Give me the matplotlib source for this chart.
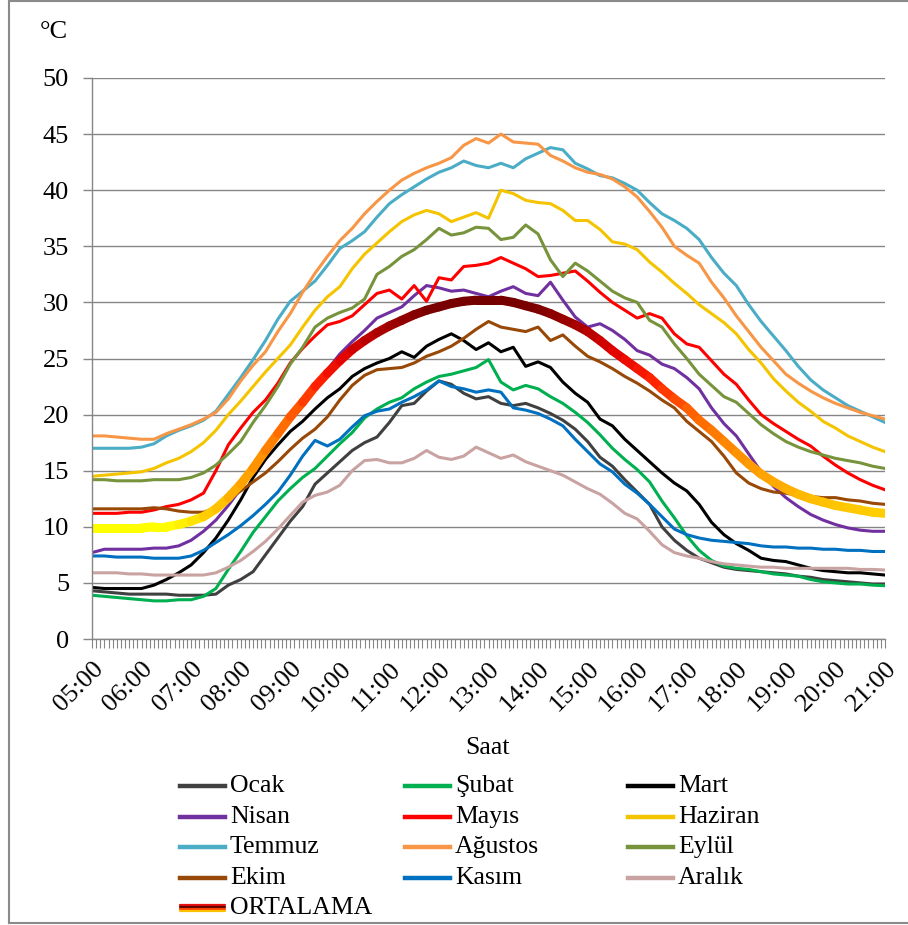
import numpy as np
import matplotlib
matplotlib.use("Agg")
import matplotlib.pyplot as plt
from matplotlib.collections import LineCollection
from matplotlib.colors import LinearSegmentedColormap
from matplotlib.lines import Line2D
from matplotlib.ticker import MultipleLocator, FixedLocator

plt.rcParams['font.family'] = ['Liberation Serif', 'DejaVu Serif']

# ---- veriler: 05:00 - 21:00 arasi, 15 dakikada bir ortalama sicaklik (°C) ----
saat = np.arange(5, 21.001, 0.25)

ocak = [4.3, 4.2, 4.1, 4.0, 4.0, 4.0, 4.0, 3.9, 3.9, 3.9, 4.0, 4.8, 5.3, 6.0, 7.5, 9.0,
        10.5, 11.8, 13.8, 14.8, 15.8, 16.8, 17.5, 18.0, 19.3, 20.8, 21.0, 22.1, 23.0, 22.7, 21.9, 21.4,
        21.6, 21.0, 20.8, 21.0, 20.6, 20.1, 19.5, 18.7, 17.6, 16.2, 15.4, 14.2, 13.1, 12.0, 10.0, 8.8,
        7.9, 7.2, 6.8, 6.4, 6.2, 6.1, 6.0, 5.9, 5.8, 5.6, 5.5, 5.3, 5.2, 5.1, 5.0, 4.9, 4.9]
subat = [3.9, 3.8, 3.7, 3.6, 3.5, 3.4, 3.4, 3.5, 3.5, 3.8, 4.5, 6.2, 7.8, 9.5, 10.9, 12.3,
         13.4, 14.4, 15.2, 16.3, 17.4, 18.4, 19.7, 20.5, 21.1, 21.5, 22.3, 22.9, 23.4, 23.6, 23.9, 24.2,
         24.9, 22.9, 22.2, 22.6, 22.3, 21.6, 21.0, 20.2, 19.3, 18.2, 17.0, 16.0, 15.1, 14.0, 12.3, 10.8,
         9.2, 7.9, 7.0, 6.5, 6.3, 6.2, 6.0, 5.8, 5.7, 5.6, 5.3, 5.1, 5.0, 4.9, 4.9, 4.8, 4.75]
mart = [4.6, 4.5, 4.5, 4.5, 4.5, 4.8, 5.3, 5.9, 6.6, 7.7, 9.0, 10.6, 12.4, 14.4, 16.0, 17.3,
        18.5, 19.4, 20.5, 21.5, 22.3, 23.4, 24.1, 24.6, 25.0, 25.6, 25.1, 26.1, 26.7, 27.2, 26.6, 25.8,
        26.4, 25.6, 26.0, 24.3, 24.7, 24.2, 22.9, 21.9, 21.1, 19.6, 19.0, 17.8, 16.8, 15.8, 14.8, 13.9,
        13.2, 12.0, 10.4, 9.3, 8.5, 7.9, 7.2, 7.0, 6.9, 6.6, 6.3, 6.1, 6.0, 5.9, 5.9, 5.8, 5.7]
nisan = [7.7, 8.0, 8.0, 8.0, 8.0, 8.1, 8.1, 8.3, 8.8, 9.6, 10.6, 11.9, 13.4, 15.0, 16.5, 18.0,
         19.4, 20.8, 22.2, 24.0, 25.4, 26.5, 27.5, 28.6, 29.1, 29.6, 30.6, 31.5, 31.3, 31.0, 31.1, 30.8,
         30.5, 31.0, 31.4, 30.8, 30.6, 31.8, 30.2, 28.7, 27.8, 28.1, 27.5, 26.7, 25.7, 25.3, 24.5, 24.1,
         23.3, 22.3, 20.6, 19.2, 18.1, 16.5, 14.9, 13.6, 12.6, 11.8, 11.1, 10.6, 10.2, 9.9, 9.7, 9.6, 9.6]
mayis = [11.2, 11.2, 11.2, 11.3, 11.3, 11.5, 11.8, 12.0, 12.4, 13.0, 15.0, 17.3, 18.8, 20.2, 21.3, 22.8,
         24.6, 25.9, 27.0, 28.0, 28.3, 28.8, 29.8, 30.8, 31.1, 30.3, 31.5, 30.1, 32.2, 32.0, 33.2, 33.3,
         33.5, 34.0, 33.5, 33.0, 32.3, 32.4, 32.6, 32.8, 31.9, 30.9, 30.0, 29.3, 28.6, 29.0, 28.6, 27.2,
         26.3, 26.0, 24.8, 23.6, 22.7, 21.3, 20.0, 19.2, 18.5, 17.8, 17.2, 16.3, 15.5, 14.8, 14.2, 13.7, 13.3]
haziran = [14.5, 14.6, 14.7, 14.8, 14.9, 15.2, 15.7, 16.1, 16.7, 17.5, 18.6, 20.0, 21.2, 22.5, 23.8, 25.0,
           26.2, 27.8, 29.3, 30.5, 31.4, 33.0, 34.3, 35.3, 36.3, 37.2, 37.8, 38.2, 37.9, 37.2, 37.6, 38.0,
           37.5, 40.0, 39.7, 39.1, 38.9, 38.8, 38.2, 37.3, 37.3, 36.5, 35.4, 35.2, 34.7, 33.6, 32.7, 31.7,
           30.8, 29.8, 29.0, 28.2, 27.2, 25.8, 24.6, 23.2, 22.1, 21.1, 20.3, 19.4, 18.8, 18.1, 17.6, 17.1, 16.7]
temmuz = [17.0, 17.0, 17.0, 17.0, 17.1, 17.4, 18.1, 18.6, 19.0, 19.5, 20.3, 21.8, 23.3, 24.9, 26.6, 28.5,
          30.1, 31.0, 31.9, 33.3, 34.8, 35.5, 36.3, 37.6, 38.8, 39.6, 40.3, 41.0, 41.6, 42.0, 42.6, 42.2,
          42.0, 42.4, 42.0, 42.8, 43.3, 43.8, 43.6, 42.4, 41.9, 41.3, 41.1, 40.6, 40.0, 38.9, 37.9, 37.3,
          36.6, 35.6, 34.0, 32.6, 31.5, 29.8, 28.3, 27.0, 25.7, 24.3, 23.1, 22.2, 21.5, 20.8, 20.3, 19.8, 19.3]
agustos = [18.1, 18.1, 18.0, 17.9, 17.8, 17.8, 18.3, 18.7, 19.1, 19.6, 20.2, 21.4, 23.0, 24.4, 25.6, 27.4,
           29.0, 30.9, 32.6, 34.1, 35.5, 36.6, 37.9, 39.0, 40.0, 40.9, 41.5, 42.0, 42.4, 42.9, 44.0, 44.6,
           44.2, 45.0, 44.3, 44.2, 44.1, 43.1, 42.6, 42.0, 41.6, 41.4, 41.0, 40.3, 39.4, 38.1, 36.7, 35.0,
           34.2, 33.5, 31.8, 30.4, 28.8, 27.4, 26.0, 24.8, 23.6, 22.8, 22.1, 21.5, 21.0, 20.6, 20.2, 19.9, 19.6]
eylul = [14.2, 14.2, 14.1, 14.1, 14.1, 14.2, 14.2, 14.2, 14.4, 14.8, 15.5, 16.5, 17.6, 19.3, 20.8, 22.5,
         24.5, 26.0, 27.8, 28.6, 29.1, 29.5, 30.3, 32.5, 33.2, 34.1, 34.7, 35.6, 36.6, 36.0, 36.2, 36.7,
         36.6, 35.6, 35.8, 36.9, 36.1, 33.8, 32.3, 33.5, 32.8, 31.9, 31.0, 30.4, 30.0, 28.4, 27.8, 26.3,
         25.0, 23.6, 22.6, 21.6, 21.1, 20.1, 19.1, 18.3, 17.6, 17.1, 16.7, 16.4, 16.1, 15.9, 15.7, 15.4, 15.2]
ekim = [11.6, 11.6, 11.6, 11.6, 11.6, 11.7, 11.6, 11.4, 11.3, 11.3, 11.7, 12.4, 13.2, 14.0, 14.8, 15.8,
        16.9, 17.9, 18.7, 19.8, 21.3, 22.6, 23.5, 24.0, 24.1, 24.2, 24.6, 25.2, 25.6, 26.1, 26.8, 27.6,
        28.3, 27.8, 27.6, 27.4, 27.8, 26.6, 27.1, 26.1, 25.2, 24.7, 24.1, 23.4, 22.8, 22.1, 21.3, 20.6,
        19.4, 18.5, 17.6, 16.3, 14.8, 13.9, 13.4, 13.1, 13.0, 12.8, 12.7, 12.6, 12.6, 12.4, 12.3, 12.1, 12.0]
kasim = [7.4, 7.4, 7.3, 7.3, 7.3, 7.2, 7.2, 7.2, 7.4, 7.9, 8.6, 9.3, 10.1, 11.0, 12.0, 13.1,
         14.6, 16.3, 17.7, 17.2, 17.8, 18.9, 19.9, 20.3, 20.5, 21.1, 21.6, 22.2, 23.0, 22.5, 22.3, 22.0,
         22.2, 22.0, 20.6, 20.4, 20.1, 19.6, 19.0, 17.8, 16.7, 15.6, 14.9, 13.8, 13.0, 12.0, 10.9, 9.8,
         9.3, 9.0, 8.8, 8.7, 8.6, 8.5, 8.3, 8.2, 8.2, 8.1, 8.1, 8.0, 8.0, 7.9, 7.9, 7.8, 7.8]
aralik = [5.9, 5.9, 5.9, 5.8, 5.8, 5.7, 5.7, 5.7, 5.7, 5.7, 5.9, 6.4, 7.0, 7.8, 8.7, 9.8,
          11.0, 12.2, 12.8, 13.1, 13.7, 15.0, 15.9, 16.0, 15.7, 15.7, 16.1, 16.8, 16.2, 16.0, 16.3, 17.1,
          16.6, 16.1, 16.4, 15.8, 15.4, 15.0, 14.6, 14.0, 13.4, 12.9, 12.1, 11.2, 10.7, 9.6, 8.4, 7.7,
          7.4, 7.2, 6.9, 6.7, 6.6, 6.5, 6.4, 6.4, 6.3, 6.3, 6.3, 6.3, 6.3, 6.3, 6.2, 6.2, 6.15]
ortalama = [9.9, 9.9, 9.9, 9.9, 9.9, 10.0, 10.0, 10.2, 10.5, 10.9, 11.6, 12.6, 13.8, 15.2, 16.8, 18.3,
            19.8, 21.1, 22.5, 23.7, 24.8, 25.8, 26.6, 27.3, 27.9, 28.4, 28.9, 29.3, 29.6, 29.9, 30.1, 30.2,
            30.2, 30.2, 30.0, 29.7, 29.4, 29.0, 28.5, 28.0, 27.4, 26.6, 25.7, 24.9, 24.1, 23.3, 22.3, 21.4,
            20.6, 19.5, 18.6, 17.6, 16.6, 15.6, 14.7, 14.0, 13.4, 12.9, 12.5, 12.2, 11.9, 11.7, 11.5, 11.3, 11.2]

aylar = ["Ocak", "Şubat", "Mart", "Nisan", "Mayıs", "Haziran",
         "Temmuz", "Ağustos", "Eylül", "Ekim", "Kasım", "Aralık"]
seriler = [ocak, subat, mart, nisan, mayis, haziran, temmuz, agustos, eylul, ekim, kasim, aralik]
renkler = ["#404040", "#00B050", "#000000", "#7030A0", "#FF0000", "#F5C400",
           "#4BACC6", "#F79646", "#77933C", "#984807", "#0070C0", "#C9A3A1"]

W, H = 908, 925
GRI = "#868686"

fig = plt.figure(figsize=(W / 100, H / 100), dpi=100)
ax = fig.add_axes([92 / W, 1 - 639 / H, 793 / W, 561 / H])

for deger, renk in zip(seriler, renkler):
    ax.plot(saat, deger, color=renk, lw=2.2, solid_joinstyle='round')

# ortalama cizgisi: sicakliga gore sariden koyu kirmiziya
ort_cmap = LinearSegmentedColormap.from_list("ortalama", [
    (0.0, "#FFFF00"), (0.05, "#FFD000"), (0.15, "#FFB000"), (0.30, "#FF9000"),
    (0.48, "#FF6000"), (0.62, "#FF2000"), (0.74, "#E00000"), (0.86, "#A00000"),
    (0.93, "#7A0000"), (1.0, "#700000")])
ort = np.array(ortalama)
noktalar = np.column_stack([saat, ort]).reshape(-1, 1, 2)
parcalar = np.concatenate([noktalar[:-1], noktalar[1:]], axis=1)
lc = LineCollection(parcalar, cmap=ort_cmap, linewidths=6.5, capstyle='round', joinstyle='round')
lc.set_array((ort[:-1] + ort[1:]) / 2)
lc.set_clim(10, 31)
ax.add_collection(lc)

# eksenler
ax.set_xlim(5, 21)
ax.set_ylim(0, 50)
ax.set_yticks(np.arange(0, 51, 5))
ax.xaxis.set_major_locator(FixedLocator(np.arange(5, 22)))
ax.xaxis.set_minor_locator(MultipleLocator(5 / 60))
ax.set_xticklabels([f"{h:02d}:00" for h in range(5, 22)])
ax.tick_params(axis='y', length=6.5, color=GRI, width=1, pad=10, labelsize=19)
ax.tick_params(axis='x', which='both', length=6.5, color=GRI, width=0.8, direction='out')
ax.tick_params(axis='x', which='major', pad=7, labelsize=19)
plt.setp(ax.get_xticklabels(), rotation=45, ha='right', rotation_mode='anchor')

ax.yaxis.grid(True, color=GRI, lw=1)
ax.set_axisbelow(True)
for k in ("top", "right"):
    ax.spines[k].set_visible(False)
for k in ("left", "bottom"):
    ax.spines[k].set_color(GRI)
    ax.spines[k].set_linewidth(1)

fig.text(40 / W, 1 - 32 / H, "°C", fontsize=19, va='center', ha='left')
fig.text(488 / W, 1 - 748 / H, "Saat", fontsize=18.5, va='center', ha='center')

# lejant: 3 sutun, satir satir
kol_x = [180, 405, 628]
satir_y = [786, 817, 847, 878, 908]
for i, (ad, renk) in enumerate(zip(aylar, renkler)):
    x0 = kol_x[i % 3]
    y0 = 1 - satir_y[i // 3] / H
    fig.add_artist(Line2D([x0 / W, (x0 + 45) / W], [y0, y0], color=renk, lw=3.2,
                          transform=fig.transFigure))
    fig.text((x0 + 50) / W, y0, ad, fontsize=18.5, va='center', ha='left')

x0 = kol_x[0]
yo = satir_y[4]
for dy, renk in zip([-3, -1, 1, 3], ["#E81010", "#5A0000", "#FF4000", "#FFC000"]):
    y = 1 - (yo + dy) / H
    fig.add_artist(Line2D([x0 / W, (x0 + 45) / W], [y, y], color=renk, lw=1.6,
                          solid_capstyle='round', transform=fig.transFigure))
fig.text((x0 + 50) / W, 1 - yo / H, "ORTALAMA", fontsize=18.5, va='center', ha='left')

# dis cerceve
for xs, ys in [([8.5, 8.5], [1, 922.5]), ([8.5, W], [1, 1]), ([8.5, W], [922.5, 922.5])]:
    fig.add_artist(Line2D([x / W for x in xs], [1 - y / H for y in ys], color="#8A8A8A",
                          lw=1.5, transform=fig.transFigure))

fig.savefig("out.png", dpi=100)
